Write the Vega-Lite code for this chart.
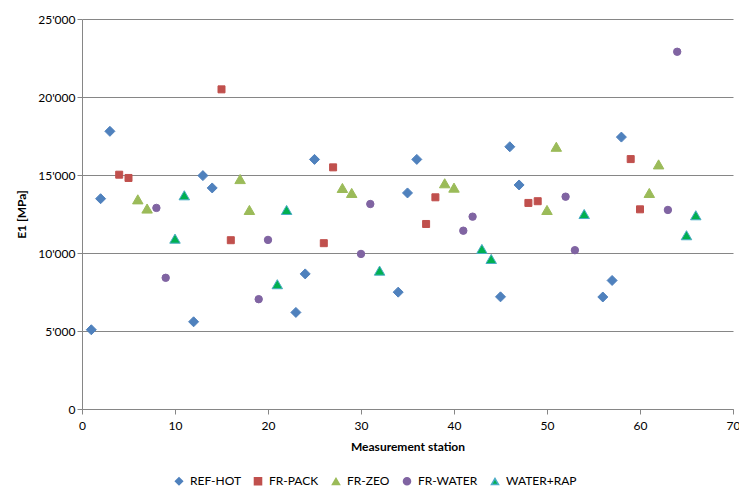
{
  "$schema": "https://vega.github.io/schema/vega-lite/v6.json",
  "width": 651,
  "height": 390,
  "autosize": {"type": "none"},
  "padding": {"left": 82, "top": 19, "right": 6, "bottom": 80},
  "background": "white",
  "config": {
    "view": {"stroke": null},
    "font": "Lato",
    "axis": {
      "labelFont": "Lato",
      "labelFontSize": 12,
      "labelColor": "#000000",
      "titleFont": "Lato",
      "titleFontSize": 12,
      "titleFontWeight": "bold",
      "titleColor": "#000000",
      "domainColor": "#868686",
      "tickColor": "#868686",
      "gridColor": "#868686",
      "tickSize": 5
    },
    "legend": {
      "labelFont": "Lato",
      "labelFontSize": 12,
      "labelColor": "#000000"
    }
  },
  "data": {
    "values": [
      {"s": 1, "v": 5080, "g": "REF-HOT"},
      {"s": 2, "v": 13480, "g": "REF-HOT"},
      {"s": 3, "v": 17800, "g": "REF-HOT"},
      {"s": 12, "v": 5590, "g": "REF-HOT"},
      {"s": 13, "v": 14960, "g": "REF-HOT"},
      {"s": 14, "v": 14170, "g": "REF-HOT"},
      {"s": 23, "v": 6190, "g": "REF-HOT"},
      {"s": 24, "v": 8660, "g": "REF-HOT"},
      {"s": 25, "v": 16000, "g": "REF-HOT"},
      {"s": 34, "v": 7490, "g": "REF-HOT"},
      {"s": 35, "v": 13850, "g": "REF-HOT"},
      {"s": 36, "v": 16000, "g": "REF-HOT"},
      {"s": 45, "v": 7190, "g": "REF-HOT"},
      {"s": 46, "v": 16810, "g": "REF-HOT"},
      {"s": 47, "v": 14360, "g": "REF-HOT"},
      {"s": 56, "v": 7180, "g": "REF-HOT"},
      {"s": 57, "v": 8240, "g": "REF-HOT"},
      {"s": 58, "v": 17430, "g": "REF-HOT"},
      {"s": 4, "v": 15020, "g": "FR-PACK"},
      {"s": 5, "v": 14810, "g": "FR-PACK"},
      {"s": 15, "v": 20490, "g": "FR-PACK"},
      {"s": 16, "v": 10820, "g": "FR-PACK"},
      {"s": 26, "v": 10630, "g": "FR-PACK"},
      {"s": 27, "v": 15490, "g": "FR-PACK"},
      {"s": 37, "v": 11860, "g": "FR-PACK"},
      {"s": 38, "v": 13570, "g": "FR-PACK"},
      {"s": 48, "v": 13210, "g": "FR-PACK"},
      {"s": 49, "v": 13320, "g": "FR-PACK"},
      {"s": 59, "v": 16020, "g": "FR-PACK"},
      {"s": 60, "v": 12800, "g": "FR-PACK"},
      {"s": 6, "v": 13440, "g": "FR-ZEO"},
      {"s": 7, "v": 12850, "g": "FR-ZEO"},
      {"s": 17, "v": 14740, "g": "FR-ZEO"},
      {"s": 18, "v": 12760, "g": "FR-ZEO"},
      {"s": 28, "v": 14170, "g": "FR-ZEO"},
      {"s": 29, "v": 13850, "g": "FR-ZEO"},
      {"s": 39, "v": 14470, "g": "FR-ZEO"},
      {"s": 40, "v": 14190, "g": "FR-ZEO"},
      {"s": 50, "v": 12760, "g": "FR-ZEO"},
      {"s": 51, "v": 16810, "g": "FR-ZEO"},
      {"s": 61, "v": 13850, "g": "FR-ZEO"},
      {"s": 62, "v": 15680, "g": "FR-ZEO"},
      {"s": 8, "v": 12890, "g": "FR-WATER"},
      {"s": 9, "v": 8410, "g": "FR-WATER"},
      {"s": 19, "v": 7040, "g": "FR-WATER"},
      {"s": 20, "v": 10840, "g": "FR-WATER"},
      {"s": 30, "v": 9940, "g": "FR-WATER"},
      {"s": 31, "v": 13140, "g": "FR-WATER"},
      {"s": 41, "v": 11430, "g": "FR-WATER"},
      {"s": 42, "v": 12330, "g": "FR-WATER"},
      {"s": 52, "v": 13610, "g": "FR-WATER"},
      {"s": 53, "v": 10180, "g": "FR-WATER"},
      {"s": 63, "v": 12760, "g": "FR-WATER"},
      {"s": 64, "v": 22900, "g": "FR-WATER"},
      {"s": 10, "v": 10920, "g": "WATER+RAP"},
      {"s": 11, "v": 13700, "g": "WATER+RAP"},
      {"s": 21, "v": 8000, "g": "WATER+RAP"},
      {"s": 22, "v": 12760, "g": "WATER+RAP"},
      {"s": 32, "v": 8870, "g": "WATER+RAP"},
      {"s": 43, "v": 10260, "g": "WATER+RAP"},
      {"s": 44, "v": 9620, "g": "WATER+RAP"},
      {"s": 54, "v": 12500, "g": "WATER+RAP"},
      {"s": 65, "v": 11140, "g": "WATER+RAP"},
      {"s": 66, "v": 12420, "g": "WATER+RAP"}
    ]
  },
  "encoding": {
    "x": {
      "field": "s",
      "type": "quantitative",
      "title": "Measurement station",
      "scale": {"domain": [0, 70], "nice": false, "zero": true},
      "axis": {
        "values": [0, 10, 20, 30, 40, 50, 60, 70],
        "grid": false,
        "labelPadding": 6,
        "titlePadding": 10,
        "labelFlush": false
      }
    },
    "y": {
      "field": "v",
      "type": "quantitative",
      "title": "E1 [MPa]",
      "scale": {"domain": [0, 25000], "nice": false},
      "axis": {
        "values": [0, 5000, 10000, 15000, 20000, 25000],
        "grid": true,
        "labelExpr": "replace(format(datum.value, ','), ',', \"'\")",
        "labelPadding": 2,
        "titlePadding": 9
      }
    },
    "color": {
      "field": "g",
      "type": "nominal",
      "title": null,
      "scale": {
        "domain": ["REF-HOT", "FR-PACK", "FR-ZEO", "FR-WATER", "WATER+RAP"],
        "range": ["#4F81BD", "#C0504D", "#9BBB59", "#8064A2", "#00B050"]
      },
      "legend": {
        "orient": "none",
        "direction": "horizontal",
        "legendX": 91,
        "legendY": 456,
        "symbolSize": 50,
        "labelOffset": 5,
        "columnPadding": 10,
        "padding": 0
      }
    },
    "stroke": {
      "field": "g",
      "type": "nominal",
      "title": null,
      "scale": {
        "domain": ["REF-HOT", "FR-PACK", "FR-ZEO", "FR-WATER", "WATER+RAP"],
        "range": ["#4F81BD", "#C0504D", "#9BBB59", "#8064A2", "#4BACC6"]
      }
    },
    "shape": {
      "field": "g",
      "type": "nominal",
      "title": null,
      "scale": {
        "domain": ["REF-HOT", "FR-PACK", "FR-ZEO", "FR-WATER", "WATER+RAP"],
        "range": ["diamond", "square", "triangle-up", "circle", "triangle-up"]
      }
    }
  },
  "layer": [
    {
      "transform": [{"filter": "datum.g === 'REF-HOT'"}],
      "mark": {"type": "point", "filled": true, "opacity": 1, "strokeWidth": 1, "size": 100}
    },
    {
      "transform": [{"filter": "datum.g === 'FR-PACK'"}],
      "mark": {"type": "point", "filled": true, "opacity": 1, "strokeWidth": 1, "size": 49}
    },
    {
      "transform": [{"filter": "datum.g === 'FR-ZEO'"}],
      "mark": {"type": "point", "filled": true, "opacity": 1, "strokeWidth": 1, "size": 110}
    },
    {
      "transform": [{"filter": "datum.g === 'FR-WATER'"}],
      "mark": {"type": "point", "filled": true, "opacity": 1, "strokeWidth": 1, "size": 55}
    },
    {
      "transform": [{"filter": "datum.g === 'WATER+RAP'"}],
      "mark": {"type": "point", "filled": true, "opacity": 1, "strokeWidth": 1, "size": 110}
    }
  ]
}
